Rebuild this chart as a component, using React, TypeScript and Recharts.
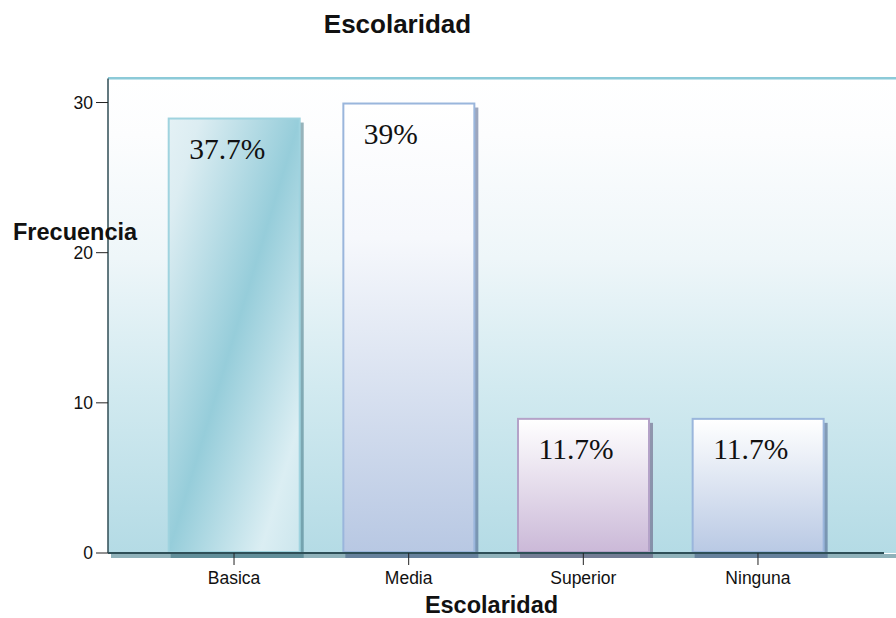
import React from "react";
import { BarChart, Bar, XAxis, YAxis, LabelList } from "recharts";

// Escolaridad frequency chart (SPSS style)
const categories = ["Basica", "Media", "Superior", "Ninguna"];
const counts = [29, 30, 9, 9];
const percentLabels = ["37.7%", "39%", "11.7%", "11.7%"];
const yTicks = [0, 10, 20, 30];

const barStyles = [
  { id: "gBasica", stroke: "#9fd3df", shadow: "rgba(50,105,120,0.5)" },
  { id: "gMedia", stroke: "#9ab6dc", shadow: "rgba(60,80,125,0.5)" },
  { id: "gSuperior", stroke: "#b4a2c8", shadow: "rgba(85,70,110,0.5)" },
  { id: "gNinguna", stroke: "#9ab6dc", shadow: "rgba(60,80,125,0.5)" },
];

const chartData = categories.map((name, i) => ({
  name,
  count: counts[i],
  label: percentLabels[i],
}));

const sans = "'Liberation Sans', Arial, sans-serif";

const BarShape = (props: any) => {
  const { x, y, width, height } = props;
  let i = typeof props.index === "number" ? props.index : -1;
  if (i < 0) i = categories.indexOf(props.payload?.name);
  const s = barStyles[i] || barStyles[0];
  return (
    <g>
      <rect x={x + 3} y={y + 5} width={width} height={height} fill={s.shadow} />
      <rect
        x={x + 1}
        y={y + 1}
        width={width - 2}
        height={height - 2}
        fill={`url(#${s.id})`}
        stroke={s.stroke}
        strokeWidth={2}
      />
    </g>
  );
};

export default function App() {
  return (
    <div style={{ position: "absolute", left: 0, top: 0, width: 896, height: 618, background: "#fff", overflow: "hidden" }}>
      {/* plot background */}
      <div
        style={{
          position: "absolute",
          left: 108,
          top: 78,
          width: 788,
          height: 475,
          background:
            "linear-gradient(to bottom, #ffffff 0%, #fcfdfe 12%, #eef6f9 38%, #d2eaf0 65%, #b4dbe5 100%)",
        }}
      />
      {/* top border */}
      <div style={{ position: "absolute", left: 108, top: 77, width: 788, height: 2, background: "#8ccad8" }} />
      <div style={{ position: "absolute", left: 108, top: 79, width: 788, height: 1, background: "#c2e4ec" }} />
      {/* strip under the axis */}
      <div style={{ position: "absolute", left: 111, top: 553.5, width: 785, height: 4.5, background: "#90b2ba" }} />

      <div style={{ position: "absolute", left: 0, top: 0 }}>
        <BarChart
          width={896}
          height={618}
          data={chartData}
          margin={{ top: 78.5, right: 12, bottom: 0, left: 0 }}
        >
          <defs>
            <linearGradient id="gBasica" x1="0" y1="0" x2="1" y2="1">
              <stop offset="0%" stopColor="#e4f1f5" />
              <stop offset="12%" stopColor="#dcedf2" />
              <stop offset="50%" stopColor="#96cdda" />
              <stop offset="85%" stopColor="#dbeef3" />
              <stop offset="100%" stopColor="#cce6ed" />
            </linearGradient>
            <linearGradient id="gMedia" x1="0" y1="0" x2="0" y2="1">
              <stop offset="0%" stopColor="#ffffff" />
              <stop offset="30%" stopColor="#f6f8fc" />
              <stop offset="100%" stopColor="#b8c8e3" />
            </linearGradient>
            <linearGradient id="gSuperior" x1="0" y1="0" x2="0" y2="1">
              <stop offset="0%" stopColor="#ffffff" />
              <stop offset="100%" stopColor="#cbb9d8" />
            </linearGradient>
            <linearGradient id="gNinguna" x1="0" y1="0" x2="0" y2="1">
              <stop offset="0%" stopColor="#ffffff" />
              <stop offset="100%" stopColor="#b9c9e4" />
            </linearGradient>
          </defs>

          <XAxis
            dataKey="name"
            height={65}
            padding={{ left: 38.7, right: 38.7 }}
            axisLine={{ stroke: "#2e4f57", strokeWidth: 2 }}
            tickLine={{ stroke: "#222" }}
            tickSize={12}
            tickMargin={7}
            tick={{ fill: "#111", fontSize: 17.5, fontFamily: sans }}
            label={{
              value: "Escolaridad",
              content: () => (
                <text
                  x={491.5}
                  y={612.5}
                  textAnchor="middle"
                  fontFamily={sans}
                  fontWeight="bold"
                  fontSize={23.5}
                  fill="#111"
                >
                  Escolaridad
                </text>
              ),
            }}
          />
          <YAxis
            width={108}
            domain={[0, 31.6]}
            ticks={yTicks}
            axisLine={{ stroke: "#2f4c54", strokeWidth: 1.5 }}
            tickLine={{ stroke: "#222" }}
            tickSize={12}
            tickMargin={3}
            tick={{ fill: "#111", fontSize: 17.5, fontFamily: sans }}
            label={{
              value: "Frecuencia",
              content: () => (
                <text
                  x={13}
                  y={239.5}
                  textAnchor="start"
                  fontFamily={sans}
                  fontWeight="bold"
                  fontSize={23.5}
                  fill="#111"
                >
                  Frecuencia
                </text>
              ),
            }}
          />
          <Bar dataKey="count" barSize={133} shape={BarShape} isAnimationActive={false}>
            <LabelList
              dataKey="label"
              content={(p: any) => (
                <text
                  x={Number(p.x) + 21.5}
                  y={Number(p.y) + 41}
                  textAnchor="start"
                  fontFamily="'Liberation Serif', 'Times New Roman', serif"
                  fontSize={29.5}
                  fill="#111"
                >
                  {p.value}
                </text>
              )}
            />
          </Bar>
          <text
            x={397.5}
            y={32.5}
            textAnchor="middle"
            fontFamily={sans}
            fontWeight="bold"
            fontSize={26}
            fill="#111"
          >
            Escolaridad
          </text>
        </BarChart>
      </div>
    </div>
  );
}
